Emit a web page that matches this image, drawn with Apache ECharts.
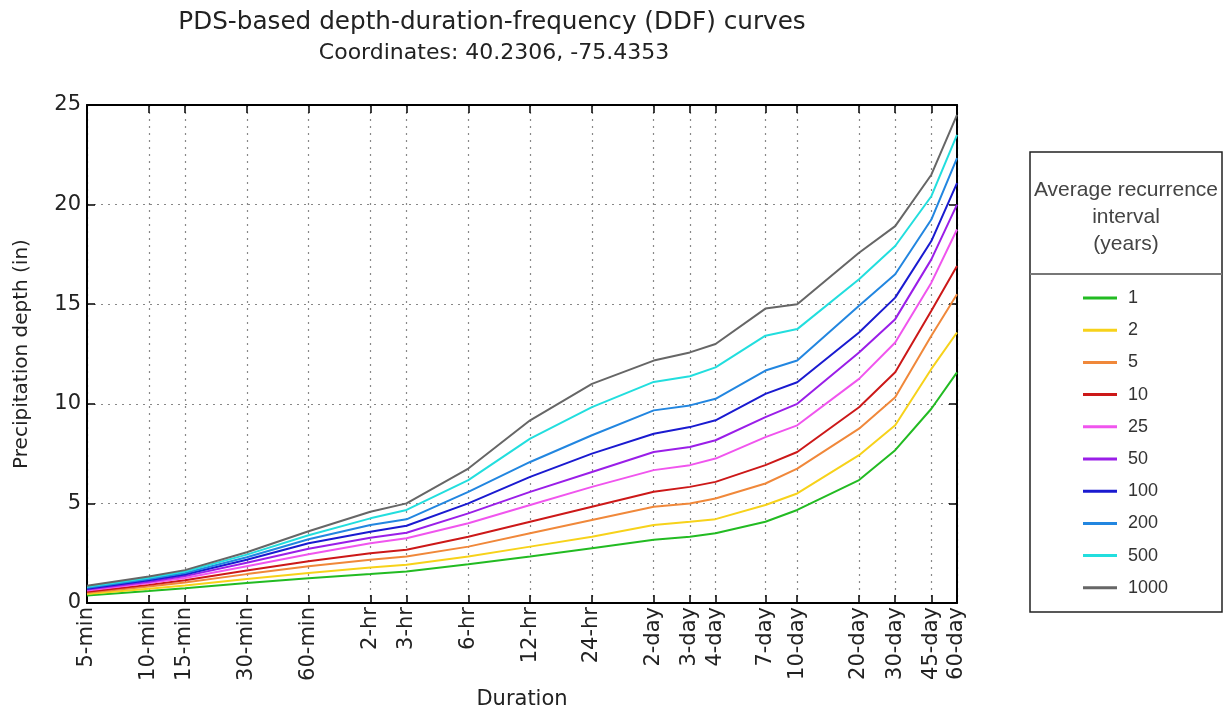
<!DOCTYPE html>
<html>
<head>
<meta charset="utf-8">
<script src="https://cdn.jsdelivr.net/npm/echarts@6/dist/echarts.min.js"></script>
<style>
  html, body { margin: 0; padding: 0; background: #fff; }
  #chart { width: 1225px; height: 715px; }
</style>
</head>
<body>
<div id="chart"></div>
<script>
// durations (minutes) and their tick labels
var durMinutes = [5, 10, 15, 30, 60, 120, 180, 360, 720, 1440, 2880, 4320, 5760, 10080, 14400, 28800, 43200, 64800, 86400];
var durLabels = ['5-min', '10-min', '15-min', '30-min', '60-min', '2-hr', '3-hr', '6-hr', '12-hr', '24-hr',
  '2-day', '3-day', '4-day', '7-day', '10-day', '20-day', '30-day', '45-day', '60-day'];

// recurrence intervals (years)
var ariNames = ['1', '2', '5', '10', '25', '50', '100', '200', '500', '1000'];
var ariColors = ['#22bb22', '#f7d21a', '#f0883a', '#cc1818', '#f055ee', '#9a1ee8', '#1a1ad0', '#2286e0', '#22dede', '#666666'];

// precipitation depth (in), one array per recurrence interval
var depth1    = [0.38, 0.60, 0.74, 1.00, 1.24, 1.45, 1.58, 1.95, 2.33, 2.75, 3.17, 3.33, 3.50, 4.08, 4.67, 6.17, 7.67, 9.75, 11.58];
var depth2    = [0.45, 0.72, 0.88, 1.20, 1.50, 1.78, 1.92, 2.33, 2.83, 3.33, 3.92, 4.08, 4.21, 4.92, 5.50, 7.42, 8.92, 11.75, 13.58];
var depth5    = [0.52, 0.83, 1.03, 1.45, 1.85, 2.17, 2.33, 2.83, 3.50, 4.17, 4.83, 5.00, 5.25, 6.00, 6.75, 8.75, 10.33, 13.42, 15.50];
var depth10   = [0.57, 0.91, 1.14, 1.63, 2.10, 2.50, 2.67, 3.33, 4.08, 4.83, 5.58, 5.83, 6.08, 6.92, 7.58, 9.83, 11.58, 14.67, 16.92];
var depth25   = [0.63, 1.00, 1.26, 1.85, 2.45, 3.00, 3.25, 4.00, 4.92, 5.83, 6.67, 6.92, 7.25, 8.33, 8.92, 11.25, 13.08, 16.08, 18.75];
var depth50   = [0.68, 1.07, 1.35, 2.02, 2.72, 3.28, 3.53, 4.50, 5.58, 6.58, 7.58, 7.83, 8.17, 9.33, 10.00, 12.58, 14.25, 17.25, 20.00];
var depth100  = [0.72, 1.14, 1.43, 2.17, 3.00, 3.58, 3.88, 5.00, 6.33, 7.50, 8.50, 8.83, 9.17, 10.50, 11.08, 13.58, 15.33, 18.17, 21.08];
var depth200  = [0.77, 1.20, 1.51, 2.30, 3.20, 3.92, 4.20, 5.58, 7.08, 8.42, 9.67, 9.92, 10.25, 11.67, 12.17, 14.92, 16.50, 19.25, 22.33];
var depth500  = [0.82, 1.27, 1.58, 2.43, 3.40, 4.25, 4.67, 6.17, 8.25, 9.83, 11.10, 11.38, 11.83, 13.42, 13.75, 16.25, 17.92, 20.42, 23.50];
var depth1000 = [0.87, 1.33, 1.65, 2.55, 3.60, 4.58, 5.00, 6.75, 9.17, 11.00, 12.17, 12.58, 13.00, 14.78, 15.00, 17.58, 18.92, 21.50, 24.50];

var depthSets = [depth1, depth2, depth5, depth10, depth25, depth50, depth100, depth200, depth500, depth1000];

var logX = durMinutes.map(function (m) { return Math.log10(m); });

function durLabel(v) {
  for (var i = 0; i < logX.length; i++) {
    if (Math.abs(logX[i] - v) < 1e-6) return durLabels[i];
  }
  return '';
}

var chart = echarts.init(document.getElementById('chart'));

var series = depthSets.map(function (vals, k) {
  return {
    name: ariNames[k],
    type: 'line',
    symbol: 'none',
    lineStyle: { width: 2, color: ariColors[k] },
    itemStyle: { color: ariColors[k] },
    data: vals.map(function (v, i) { return [logX[i], v]; })
  };
});

var tickStyle = { show: true, inside: true, length: 8, lineStyle: { color: '#000', width: 1.5 } };
var frameLine = { show: true, onZero: false, lineStyle: { color: '#000', width: 2 } };

var option = {
  animation: false,
  backgroundColor: '#fff',
  title: [
    {
      text: 'PDS-based depth-duration-frequency (DDF) curves',
      left: 487, top: 5, textAlign: 'center',
      textStyle: { fontFamily: 'DejaVu Sans', fontSize: 24.7, fontWeight: 'normal', color: '#222' }
    },
    {
      text: 'Coordinates: 40.2306, -75.4353',
      left: 489, top: 37, textAlign: 'center',
      textStyle: { fontFamily: 'DejaVu Sans', fontSize: 22, fontWeight: 'normal', color: '#222' }
    }
  ],
  grid: { left: 87, right: 268, top: 105, bottom: 112, containLabel: false, outerBoundsMode: 'none' },
  xAxis: [
    {
      type: 'value',
      position: 'bottom',
      min: Math.log10(5),
      max: Math.log10(86400),
      name: 'Duration',
      nameLocation: 'middle',
      nameGap: 86,
      nameTextStyle: { fontFamily: 'DejaVu Sans', fontSize: 21, color: '#222' },
      axisLine: frameLine,
      axisTick: Object.assign({ customValues: logX }, tickStyle),
      axisLabel: {
        customValues: logX,
        rotate: 90,
        margin: 4,
        fontFamily: 'DejaVu Sans',
        fontSize: 21,
        color: '#222',
        formatter: durLabel
      },
      splitLine: { show: true, lineStyle: { color: '#888', width: 1.2, type: [2, 5] } }
    },
    {
      type: 'value',
      position: 'top',
      min: Math.log10(5),
      max: Math.log10(86400),
      axisLine: frameLine,
      axisTick: Object.assign({ customValues: logX }, tickStyle),
      axisLabel: { show: false },
      splitLine: { show: false }
    }
  ],
  yAxis: [
    {
      type: 'value',
      position: 'left',
      min: 0, max: 25, interval: 5,
      name: 'Precipitation depth (in)',
      nameLocation: 'middle',
      nameGap: 55,
      nameTextStyle: { fontFamily: 'DejaVu Sans', fontSize: 20, color: '#222' },
      axisLine: frameLine,
      axisTick: tickStyle,
      axisLabel: { margin: 6, fontFamily: 'DejaVu Sans', fontSize: 21, color: '#222' },
      splitLine: { show: true, lineStyle: { color: '#888', width: 1.2, type: [2, 5] } }
    },
    {
      type: 'value',
      position: 'right',
      min: 0, max: 25, interval: 5,
      axisLine: frameLine,
      axisTick: tickStyle,
      axisLabel: { show: false },
      splitLine: { show: false }
    }
  ],
  legend: {
    orient: 'vertical',
    left: 1078,
    top: 283,
    icon: 'rect',
    itemWidth: 34,
    itemHeight: 3,
    itemGap: 12.2,
    selectedMode: false,
    data: ariNames,
    textStyle: { fontFamily: 'Liberation Sans', fontSize: 18, lineHeight: 20, color: '#333', padding: [0, 0, 0, 6] }
  },
  graphic: [
    {
      type: 'rect',
      shape: { x: 1030, y: 152, width: 192, height: 460 },
      style: { fill: 'none', stroke: '#222', lineWidth: 1.5 }
    },
    {
      type: 'line',
      shape: { x1: 1030, y1: 274, x2: 1222, y2: 274 },
      style: { stroke: '#777', lineWidth: 2 }
    },
    {
      type: 'text',
      x: 1126, y: 217,
      style: {
        text: 'Average recurrence\ninterval\n(years)',
        font: '21px "Liberation Sans"',
        lineHeight: 27,
        fill: '#444',
        align: 'center',
        verticalAlign: 'middle'
      }
    }
  ],
  series: series
};

chart.setOption(option);
</script>
</body>
</html>
